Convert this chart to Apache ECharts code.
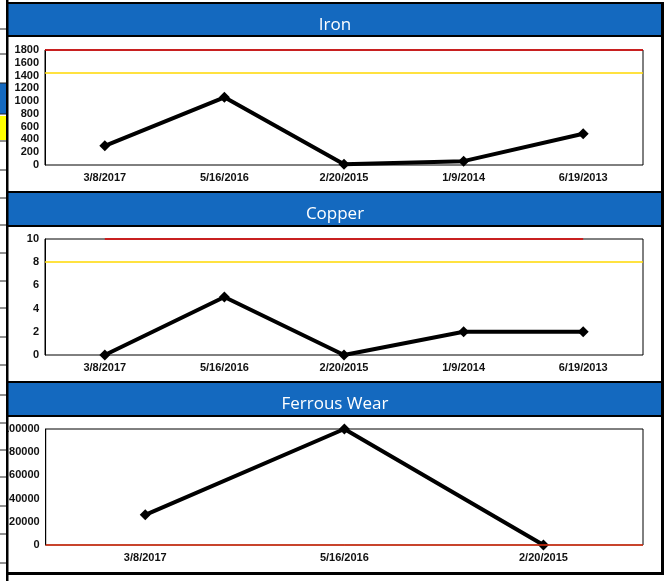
<!DOCTYPE html>
<html><head><meta charset="utf-8">
<script src="https://cdn.jsdelivr.net/npm/echarts@6/dist/echarts.min.js"></script>
<style>html,body{margin:0;padding:0;background:#fff;}#c{width:670px;height:581px;}</style>
</head><body><div id="c"></div>
<script>
const panelTitles = ['Iron', 'Copper', 'Ferrous Wear'];
const ironDates = ['3/8/2017', '5/16/2016', '2/20/2015', '1/9/2014', '6/19/2013'];
const ironValues = [300, 1060, 10, 60, 490];
const ironRed = 1800, ironYellow = 1450;
const copperDates = ['3/8/2017', '5/16/2016', '2/20/2015', '1/9/2014', '6/19/2013'];
const copperValues = [0, 5, 0, 2, 2];
const copperRed = 10, copperYellow = 8;
const ferrousDates = ['3/8/2017', '5/16/2016', '2/20/2015'];
const ferrousValues = [26000, 100000, 0];
const ferrousRed = 0;

const BLUE = '#1469BF', RED = '#E00000', YEL = '#FFD800';
const chart = echarts.init(document.getElementById('c'), null, {renderer: 'canvas'});
const labelStyle = {color: '#111', fontSize: 11, fontWeight: 'bold', fontFamily: 'Liberation Sans'};

function xAx(i, data) {
  return {gridIndex: i, type: 'category', data: data, boundaryGap: true,
    axisLine: {show: false}, axisTick: {show: false}, splitLine: {show: false},
    axisLabel: Object.assign({margin: 7, interval: 0}, labelStyle)};
}
function yAx(i, max, interval) {
  return {gridIndex: i, type: 'value', min: 0, max: max, interval: interval,
    axisLine: {show: true, lineStyle: {color: '#000', width: 1}}, axisTick: {show: false},
    splitLine: {show: false},
    axisLabel: Object.assign({margin: 6, formatter: v => String(v)}, labelStyle)};
}
function lineSeries(i, data, marks) {
  return {type: 'line', xAxisIndex: i, yAxisIndex: i, data: data,
    symbol: 'diamond', symbolSize: 11, lineStyle: {color: '#000', width: 4},
    itemStyle: {color: '#000'}, animation: false,
    markLine: {silent: true, symbol: 'none', label: {show: false}, animation: false, data: marks}};
}
const ml = (y, c) => ({yAxis: y, lineStyle: {color: c, width: 1.5, type: 'solid'}});

// panel geometry (decoration)
const panels = [
  {top: 2, hb: 4, he: 35, wb: 37, we: 191},
  {top: 190, hb: 193, he: 225, wb: 227, we: 381},
  {top: 380, hb: 383, he: 415, wb: 417, we: 572}
];
const graphic = [];
panels.forEach(p => {
  graphic.push({type: 'rect', z: -20, shape: {x: 6, y: p.top, width: 658, height: p.we - p.top + 3}, style: {fill: '#000'}});
  graphic.push({type: 'rect', z: -19, shape: {x: 8, y: p.hb, width: 653, height: p.he - p.hb}, style: {fill: BLUE}});
  graphic.push({type: 'rect', z: -19, shape: {x: 8, y: p.wb, width: 653, height: p.we - p.wb}, style: {fill: '#fff'}});
});
// left spreadsheet strip
graphic.push({type: 'rect', z: 50, shape: {x: 0, y: 0, width: 6, height: 581}, style: {fill: '#fff'}});
graphic.push({type: 'rect', z: 51, shape: {x: 0, y: 83, width: 6, height: 31}, style: {fill: BLUE}});
graphic.push({type: 'rect', z: 51, shape: {x: 0, y: 116, width: 6, height: 24}, style: {fill: '#FFFF00'}});
[29, 54, 83, 114, 141, 170, 198, 225, 253, 281, 308, 337, 365, 395, 423, 450, 477, 506, 534, 563].forEach(y => {
  graphic.push({type: 'line', z: 52, shape: {x1: 0, y1: y, x2: 6, y2: y}, style: {stroke: '#222', lineWidth: 1}});
});
graphic.push({type: 'rect', z: 53, shape: {x: 6, y: 0, width: 2.5, height: 581}, style: {fill: '#000'}});

const option = {
  animation: false,
  backgroundColor: '#fff',
  title: panelTitles.map((t, i) => ({text: t, left: 'center', top: [12, 201, 391][i],
    textStyle: {color: '#fff', fontSize: 17, fontWeight: 'normal', fontFamily: 'Open Sans'}})),
  grid: [
    {left: 45, right: 27, top: 50, height: 115, show: true, backgroundColor: '#fff', borderColor: '#000', borderWidth: 1},
    {left: 45, right: 27, top: 239, height: 116, show: true, backgroundColor: '#fff', borderColor: '#000', borderWidth: 1},
    {left: 45, right: 27, top: 429, height: 116, show: true, backgroundColor: '#fff', borderColor: '#000', borderWidth: 1}
  ],
  xAxis: [xAx(0, ironDates), xAx(1, copperDates), xAx(2, ferrousDates)],
  yAxis: [yAx(0, 1800, 200), yAx(1, 10, 2), yAx(2, 100000, 20000)],
  series: [
    lineSeries(0, ironValues, [ml(ironRed, RED), ml(ironYellow, YEL)]),
    lineSeries(1, copperValues, [
      [{coord: [copperDates[0], copperRed], lineStyle: {color: RED, width: 1.5, type: 'solid'}},
       {coord: [copperDates[copperDates.length - 1], copperRed]}],
      ml(copperYellow, YEL)]),
    lineSeries(2, ferrousValues, [ml(ferrousRed, '#E03010')])
  ],
  graphic: graphic
};
chart.setOption(option);
</script>
</body></html>
